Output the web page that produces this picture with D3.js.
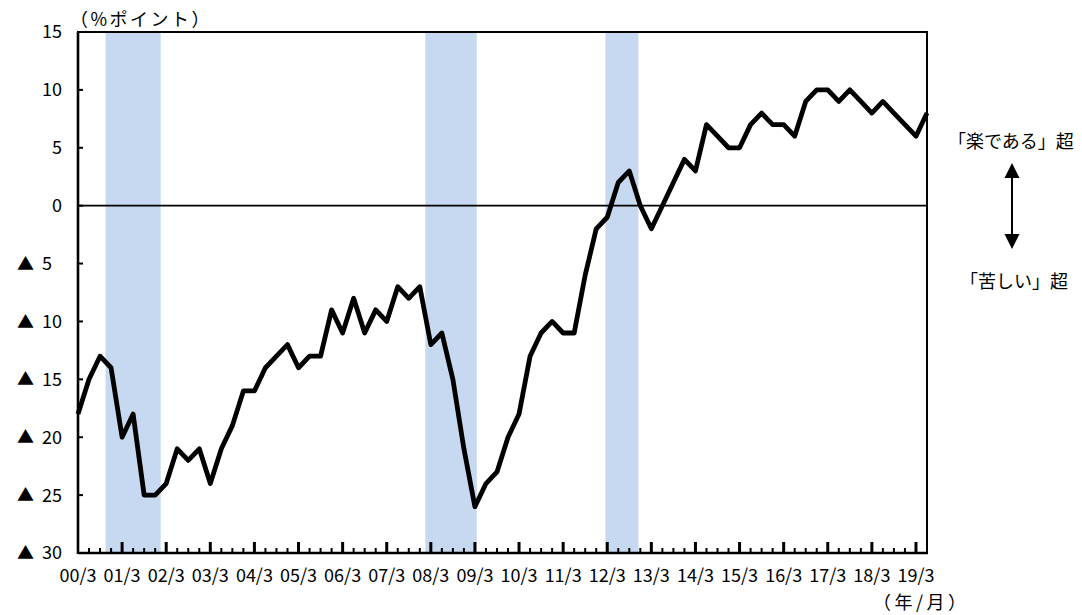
<!DOCTYPE html>
<html>
<head>
<meta charset="utf-8">
<script src="https://cdn.jsdelivr.net/npm/d3@7"></script>
<style>
  html, body { margin: 0; padding: 0; background: #fff; }
  svg { display: block; }
  text { font-family: "Noto Sans CJK JP", "Noto Sans", sans-serif; fill: #000; }
</style>
</head>
<body>
<svg id="chart" width="1082" height="615"></svg>
<script>
// ---- data ----
const startYear = 2000;            // first point: 2000/3, quarterly
const values = [
  -18, -15, -13, -14,
  -20, -18, -25, -25,
  -24, -21, -22, -21,
  -24, -21, -19, -16,
  -16, -14, -13, -12,
  -14, -13, -13, -9,
  -11, -8, -11, -9,
  -10, -7, -8, -7,
  -12, -11, -15, -21,
  -26, -24, -23, -20,
  -18, -13, -11, -10,
  -11, -11, -6, -2,
  -1, 2, 3, 0,
  -2, 0, 2, 4,
  3, 7, 6, 5,
  5, 7, 8, 7,
  7, 6, 9, 10,
  10, 9, 10, 9,
  8, 9, 8, 7,
  6, 8
];
const recessions = [            // [peak, trough] year-month
  ["2000-11", "2002-01"],
  ["2008-02", "2009-03"],
  ["2012-03", "2012-11"]
];
const yTicks = [15, 10, 5, 0, -5, -10, -15, -20, -25, -30];
const xTickYears = d3.range(2000, 2020);
const yUnit = "（%ポイント）";
const xUnit = "（年/月）";
const upperNote = "「楽である」超";
const lowerNote = "「苦しい」超";

// month index relative to 2000/3
const monthIndex = (y, m) => (y - startYear) * 12 + (m - 3);
const parseYM = s => { const [y, m] = s.split("-").map(Number); return monthIndex(y, m); };
const series = values.map((v, i) => ({ m: i * 3, v }));

// ---- layout ----
const L = 78, R = 927, T = 32, B = 553;
const svg = d3.select("#chart");
const x = d3.scaleLinear().domain([0, series[series.length - 1].m]).range([L, R]);
const y = d3.scaleLinear().domain([-30, 15]).range([B, T]);

// recession bands
svg.append("g").selectAll("rect").data(recessions).join("rect")
  .attr("x", d => x(parseYM(d[0]) - 0.5))
  .attr("width", d => x(parseYM(d[1]) + 0.5) - x(parseYM(d[0]) - 0.5))
  .attr("y", T).attr("height", B - T)
  .attr("fill", "#c6d9f1");

// zero line
svg.append("line").attr("x1", L).attr("x2", R).attr("y1", y(0)).attr("y2", y(0))
  .attr("stroke", "#000").attr("stroke-width", 1.6);

// frame
svg.append("rect").attr("x", L).attr("y", T).attr("width", R - L).attr("height", B - T)
  .attr("fill", "none").attr("stroke", "#000").attr("stroke-width", 2);
svg.append("line").attr("x1", L).attr("x2", L).attr("y1", T).attr("y2", B + 1)
  .attr("stroke", "#000").attr("stroke-width", 2.6);
svg.append("line").attr("x1", L).attr("x2", R + 1).attr("y1", B).attr("y2", B)
  .attr("stroke", "#000").attr("stroke-width", 2.6);

// y axis ticks (inside) + labels
const yg = svg.append("g");
yg.selectAll("line").data(yTicks).join("line")
  .attr("x1", L).attr("x2", L + 5).attr("y1", d => y(d)).attr("y2", d => y(d))
  .attr("stroke", "#000").attr("stroke-width", 2);
yTicks.forEach(t => {
  if (t >= 0) {
    yg.append("text").attr("x", 62).attr("y", y(t)).attr("dy", "0.36em")
      .attr("text-anchor", "end").attr("font-size", 18).text(t);
  } else {
    yg.append("text").attr("x", 34).attr("y", y(t)).attr("dy", "0.36em")
      .attr("text-anchor", "end").attr("font-size", 17).text("▲");
    yg.append("text").attr("x", 42).attr("y", y(t)).attr("dy", "0.36em")
      .attr("text-anchor", "start").attr("font-size", 18).text(-t);
  }
});

// x axis ticks (inside)
const quarterMonths = d3.range(0, series[series.length - 1].m + 1, 3);
const xg = svg.append("g");
xg.selectAll("line.minor").data(quarterMonths.filter(m => m % 12 !== 0)).join("line")
  .attr("class", "minor")
  .attr("x1", d => x(d)).attr("x2", d => x(d)).attr("y1", B).attr("y2", B - 5)
  .attr("stroke", "#000").attr("stroke-width", 2);
xg.selectAll("line.major").data(xTickYears.filter(yy => yy > startYear)).join("line")
  .attr("class", "major")
  .attr("x1", d => x(monthIndex(d, 3))).attr("x2", d => x(monthIndex(d, 3)))
  .attr("y1", B).attr("y2", B - 11)
  .attr("stroke", "#000").attr("stroke-width", 3);
xg.selectAll("text").data(xTickYears).join("text")
  .attr("x", d => x(monthIndex(d, 3))).attr("y", 576).attr("dy", "0.36em")
  .attr("text-anchor", "middle").attr("font-size", 18)
  .text(d => String(d % 100).padStart(2, "0") + "/3");

// line
svg.append("path").datum(series)
  .attr("d", d3.line().x(d => x(d.m)).y(d => y(d.v)))
  .attr("fill", "none").attr("stroke", "#000").attr("stroke-width", 4.8)
  .attr("stroke-linejoin", "round").attr("stroke-linecap", "butt");

// unit labels
svg.append("text").attr("x", 70).attr("y", 20).attr("dy", "0.36em")
  .attr("font-size", 18).attr("letter-spacing", 2.5).text(yUnit);
svg.append("text").attr("x", 873).attr("y", 603).attr("dy", "0.36em")
  .attr("font-size", 18).attr("letter-spacing", 3.5).text(xUnit);

// right-side annotation
svg.append("text").attr("x", 948).attr("y", 142).attr("dy", "0.36em")
  .attr("font-size", 18).text(upperNote);
svg.append("text").attr("x", 960).attr("y", 282).attr("dy", "0.36em")
  .attr("font-size", 18).text(lowerNote);
const ax = 1012;
svg.append("line").attr("x1", ax).attr("x2", ax).attr("y1", 172).attr("y2", 240)
  .attr("stroke", "#000").attr("stroke-width", 2);
svg.append("path").attr("d", `M${ax},163 L${ax - 7.5},178 L${ax + 7.5},178 Z`).attr("fill", "#000");
svg.append("path").attr("d", `M${ax},249 L${ax - 7.5},234 L${ax + 7.5},234 Z`).attr("fill", "#000");
</script>
</body>
</html>
